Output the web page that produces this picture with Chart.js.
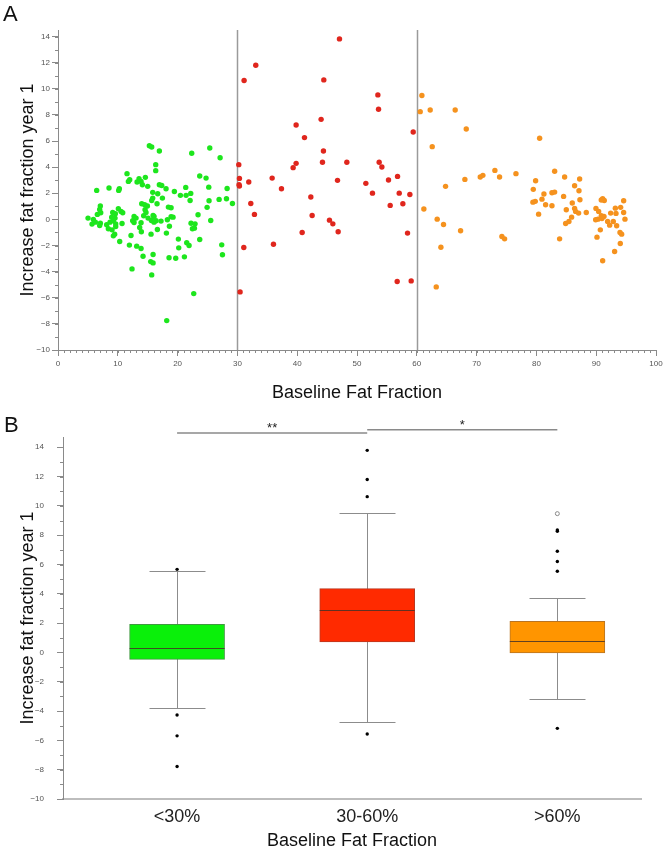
<!DOCTYPE html>
<html><head><meta charset="utf-8">
<script src="https://cdn.jsdelivr.net/npm/chart.js@4.4.1/dist/chart.umd.min.js"></script>
<style>
body{margin:0;background:#fff;width:666px;height:852px;position:relative;overflow:hidden;font-family:"Liberation Sans",Arial,sans-serif;}
#wa{position:absolute;left:0;top:0;width:666px;height:400px;}
#wb{position:absolute;left:0;top:400px;width:666px;height:452px;}
.pl{position:absolute;font-size:22px;line-height:1;color:#111;}
</style></head><body>
<div id="wa"><canvas id="ca" width="666" height="400"></canvas></div>
<div id="wb"><canvas id="cb" width="666" height="452"></canvas></div>
<div class="pl" style="left:3px;top:3px">A</div>
<div class="pl" style="left:4px;top:414px">B</div>
<script>
// ---------- Panel A data ----------
const lowX = [15.28,15.67,16.95,22.36,25.38,27.11,16.34,16.34,11.54,11.99,11.77,13.55,13.89,14.61,13.22,14.11,15.00,23.70,24.76,6.47,8.53,10.26,10.15,16.95,17.35,18.07,21.36,25.21,28.28,15.84,16.68,19.46,20.47,21.42,22.20,15.84,17.46,15.67,22.09,25.26,26.94,28.17,29.17,14.00,14.50,16.56,14.95,18.46,18.91,24.93,7.08,6.97,7.14,6.58,10.09,10.54,9.15,9.59,10.82,14.56,14.72,15.90,16.06,14.33,12.72,13.05,15.06,18.91,19.24,18.29,23.42,5.02,5.91,6.25,5.69,7.08,6.97,8.14,8.70,9.26,9.65,10.71,9.54,8.98,12.49,12.72,13.89,15.62,16.40,17.23,16.06,25.54,8.42,9.04,9.65,13.66,13.94,15.56,16.62,18.63,18.13,22.25,22.92,22.48,22.81,9.48,9.26,12.21,20.13,21.53,21.92,23.70,10.32,11.94,13.16,13.89,20.19,27.38,14.22,15.90,18.57,19.69,21.14,27.50,15.50,15.90,12.38,15.67,22.70,18.18];
const lowY = [5.64,5.54,5.24,5.06,5.47,4.72,4.19,3.73,3.50,3.04,2.91,3.11,2.91,3.22,2.86,2.65,2.53,3.32,3.16,2.22,2.40,2.35,2.22,2.65,2.60,2.35,2.45,2.47,2.37,2.07,1.96,2.14,1.84,1.84,1.99,1.63,1.63,1.45,1.45,1.43,1.53,1.58,1.22,1.20,1.12,1.20,1.02,0.94,0.89,0.92,1.02,0.76,0.51,0.38,0.81,0.61,0.53,0.43,0.51,0.74,0.53,0.30,0.22,0.28,0.22,0.10,0.10,0.20,0.17,-0.03,0.35,0.10,-0.01,-0.21,-0.36,-0.29,-0.47,-0.41,-0.21,-0.11,-0.34,-0.31,0.10,0.17,-0.11,-0.24,-0.26,-0.08,-0.11,-0.13,-0.21,-0.08,-0.72,-0.80,-0.54,-0.62,-0.95,-1.13,-0.77,-0.52,-1.05,-0.29,-0.34,-0.72,-0.67,-1.13,-1.26,-1.23,-1.51,-1.79,-2.00,-1.54,-1.69,-1.97,-2.05,-2.23,-2.18,-1.95,-2.82,-2.69,-2.94,-2.97,-2.87,-2.71,-3.23,-3.33,-3.79,-4.25,-5.68,-7.75];
const midX = [47.07,33.07,31.12,44.45,53.49,53.60,44.00,39.82,41.22,59.40,44.39,30.23,39.82,39.32,44.23,48.30,53.71,54.16,30.34,30.28,30.34,31.90,35.81,37.37,46.74,51.48,55.27,56.78,52.59,57.06,58.84,42.28,32.24,55.55,57.67,32.85,42.50,45.40,45.96,40.83,46.85,58.45,31.07,36.03,56.72,59.06,30.45];
const midY = [13.82,11.80,10.63,10.68,9.53,8.43,7.66,7.23,6.26,6.69,5.24,4.19,4.29,3.96,4.37,4.37,4.37,4.01,3.14,2.65,2.55,2.86,3.16,2.35,2.99,2.76,3.01,3.29,2.01,2.01,1.91,1.71,1.22,1.07,1.20,0.38,0.30,-0.06,-0.34,-1.00,-0.95,-1.05,-2.15,-1.90,-4.76,-4.71,-5.55];
const highX = [60.85,60.57,62.24,66.42,68.27,62.58,80.54,73.06,76.58,70.61,71.05,73.84,68.04,64.81,83.05,84.72,87.23,79.87,86.39,79.48,87.12,81.26,82.60,83.05,84.55,80.93,87.28,79.42,79.81,81.54,82.60,86.00,85.00,86.39,86.56,87.06,88.34,85.89,85.44,84.89,80.37,83.88,91.08,91.35,90.85,94.59,89.96,90.41,93.20,94.09,92.42,93.31,94.59,90.85,91.30,90.30,89.91,90.96,91.91,92.86,94.81,92.25,93.42,90.69,93.98,94.26,90.13,94.03,93.08,91.08,61.18,63.41,64.47,67.32,64.03,74.23,74.68,63.25];
const highY = [9.48,8.25,8.38,8.38,6.92,5.57,6.21,3.75,3.50,3.24,3.37,3.24,3.06,2.53,3.68,3.24,3.09,2.96,2.58,2.30,2.19,1.94,2.04,2.09,1.76,1.55,1.50,1.32,1.38,1.12,1.04,1.25,0.74,0.84,0.61,0.48,0.53,0.17,-0.16,-0.31,0.40,-1.49,1.58,1.45,1.48,1.43,0.84,0.61,0.86,0.92,0.48,0.46,0.53,0.28,0.22,0.02,-0.03,0.07,-0.16,-0.16,0.02,-0.44,-0.49,-0.80,-1.00,-1.13,-1.36,-1.85,-2.46,-3.17,0.79,0.02,-0.39,-0.87,-2.13,-1.31,-1.49,-5.17];
const cutoffs = [30, 60];
const xTicksA = [0,10,20,30,40,50,60,70,80,90,100];
const yTicks = [-10,-8,-6,-4,-2,0,2,4,6,8,10,12,14];

// ---------- Panel B data ----------
const boxCategories = ['<30%','30-60%','>60%'];
const q1 = [-0.47, 0.71, -0.04];
const median = [0.28, 2.87, 0.78];
const q3 = [1.92, 4.35, 2.12];
const whiskLow = [-3.77, -4.77, -3.20];
const whiskHigh = [5.53, 9.49, 3.73];
const outlierGroup = [1,1,1,1,2,2,2,2,3,3,3,3,3,3];
const outlierValue = [5.67,-4.27,-5.69,-7.78,13.79,11.80,10.63,-5.56,8.36,8.27,6.90,6.20,5.54,-5.18];
const farGroup = [3];
const farValue = [9.47];
const sigLabels = ['**','*'];

Chart.defaults.font.family = "'Liberation Sans', Arial, sans-serif";

const fmt = v => v < 0 ? '\u2212' + Math.abs(v) : String(v);
const pts = (xs, ys) => xs.map((x, i) => ({x, y: ys[i]}));

const minorTicks = {
  id: 'minorTicks',
  afterDraw(chart, args, opts) {
    const ctx = chart.ctx;
    ctx.save();
    ctx.strokeStyle = opts.color; ctx.lineWidth = 1;
    (opts.axes || []).forEach(a => {
      const s = chart.scales[a.id];
      for (let v = a.min; v <= a.max + 1e-9; v += a.step) {
        const p = Math.round(s.getPixelForValue(v)) + 0.5;
        ctx.beginPath();
        if (s.isHorizontal()) { ctx.moveTo(p, s.top); ctx.lineTo(p, s.top + a.len); }
        else { ctx.moveTo(s.right - a.len, p); ctx.lineTo(s.right, p); }
        ctx.stroke();
      }
    });
    ctx.restore();
  }
};

const cutLines = {
  id: 'cutLines',
  beforeDatasetsDraw(chart, args, opts) {
    const {ctx, chartArea, scales: {x}} = chart;
    ctx.save();
    ctx.strokeStyle = opts.color; ctx.lineWidth = opts.width;
    cutoffs.forEach(v => {
      const p = Math.round(x.getPixelForValue(v)) + 0.5;
      ctx.beginPath(); ctx.moveTo(p, chartArea.top); ctx.lineTo(p, chartArea.bottom); ctx.stroke();
    });
    ctx.restore();
  }
};

const axisY = (width, pad) => ({
  min: -10, max: 14.5,
  afterBuildTicks: s => { s.ticks = yTicks.map(v => ({value: v})); },
  afterFit: s => { s.width = width; },
  border: {color: '#8a8a8a', width: 1},
  grid: {drawOnChartArea: false, tickLength: 6, color: '#8a8a8a'},
  ticks: {font: {size: 8}, color: '#555', padding: pad, callback: fmt},
  title: {display: true, text: 'Increase fat fraction year 1', font: {size: 18}, color: '#111', padding: {top: 17, bottom: 0}}
});

new Chart(document.getElementById('ca'), {
  type: 'scatter',
  data: {datasets: [
    {data: pts(lowX, lowY), backgroundColor: '#1de61d', borderWidth: 0, pointRadius: 2.7},
    {data: pts(midX, midY), backgroundColor: '#e0261d', borderWidth: 0, pointRadius: 2.7},
    {data: pts(highX, highY), backgroundColor: '#f5921e', borderWidth: 0, pointRadius: 2.7}
  ]},
  options: {
    responsive: false, animation: false, devicePixelRatio: 1,
    layout: {padding: {left: 0, right: 10, top: 30, bottom: 0}},
    plugins: {
      legend: {display: false}, tooltip: {enabled: false},
      minorTicks: {color: '#8a8a8a', axes: [{id: 'x', min: 0, max: 100, step: 1, len: 3}, {id: 'y', min: -10, max: 14, step: 1, len: 3}]},
      cutLines: {color: '#9a9a9a', width: 1.5}
    },
    scales: {
      x: {
        type: 'linear', min: 0, max: 100,
        afterBuildTicks: s => { s.ticks = xTicksA.map(v => ({value: v})); },
        afterFit: s => { s.height = 50; },
        border: {color: '#8a8a8a', width: 1},
        grid: {drawOnChartArea: false, tickLength: 6, color: '#8a8a8a'},
        ticks: {font: {size: 8}, color: '#555', padding: 3, maxRotation: 0, autoSkip: false, callback: fmt},
        title: {display: true, text: 'Baseline Fat Fraction', font: {size: 18, lineHeight: 1}, color: '#111', padding: {top: 0, bottom: -2}}
      },
      y: axisY(58, 2)
    }
  },
  plugins: [minorTicks, cutLines]
});

const boxLines = {
  id: 'boxLines',
  beforeDatasetsDraw(chart) {
    const {ctx, scales: {x, y}} = chart;
    ctx.save();
    ctx.strokeStyle = '#8c8c8c'; ctx.lineWidth = 1;
    boxCategories.forEach((c, i) => {
      const cx = Math.round(x.getPixelForValue(i + 1)) + 0.5;
      const lo = Math.round(y.getPixelForValue(whiskLow[i])) + 0.5;
      const hi = Math.round(y.getPixelForValue(whiskHigh[i])) + 0.5;
      ctx.beginPath();
      ctx.moveTo(cx, hi); ctx.lineTo(cx, lo);
      ctx.moveTo(cx - 28, hi); ctx.lineTo(cx + 28, hi);
      ctx.moveTo(cx - 28, lo); ctx.lineTo(cx + 28, lo);
      ctx.stroke();
    });
    ctx.restore();
  },
  afterDatasetsDraw(chart) {
    const {ctx, scales: {x, y}} = chart;
    ctx.save();
    ctx.strokeStyle = 'rgba(70,50,40,0.85)'; ctx.lineWidth = 1;
    boxCategories.forEach((c, i) => {
      const cx = x.getPixelForValue(i + 1);
      const m = Math.round(y.getPixelForValue(median[i])) + 0.5;
      ctx.beginPath(); ctx.moveTo(cx - 47.5, m); ctx.lineTo(cx + 47.5, m); ctx.stroke();
    });
    ctx.restore();
  },
  afterDraw(chart) {
    const {ctx, scales: {x, y}} = chart;
    const levels = [14.98, 15.2];
    ctx.save();
    ctx.strokeStyle = '#8a8a8a'; ctx.lineWidth = 1.5;
    ctx.fillStyle = '#222'; ctx.font = "13px 'Liberation Sans', Arial, sans-serif";
    ctx.textAlign = 'center'; ctx.textBaseline = 'alphabetic';
    sigLabels.forEach((lab, i) => {
      const x0 = x.getPixelForValue(i + 1), x1 = x.getPixelForValue(i + 2);
      const py = y.getPixelForValue(levels[i]);
      ctx.beginPath(); ctx.moveTo(x0, py); ctx.lineTo(x1, py); ctx.stroke();
      ctx.fillText(lab, (x0 + x1) / 2, py - 1);
    });
    ctx.restore();
  }
};

const yB = axisY(63, 13);
yB.max = 14.7;

new Chart(document.getElementById('cb'), {
  type: 'bar',
  data: {datasets: [
    {type: 'bar', data: boxCategories.map((c, i) => ({x: i + 1, y: [q1[i], q3[i]]})),
     backgroundColor: ['#0af00a', '#ff2a00', '#ff9500'],
     borderColor: ['#3f9a3f', '#b83a22', '#b87422'],
     borderWidth: 1, borderSkipped: false, barThickness: 95},
    {type: 'scatter', data: outlierGroup.map((g, i) => ({x: g, y: outlierValue[i]})),
     backgroundColor: '#000', borderWidth: 0, pointRadius: 1.7},
    {type: 'scatter', data: farGroup.map((g, i) => ({x: g, y: farValue[i]})),
     backgroundColor: '#fff', borderColor: '#888', borderWidth: 1, pointRadius: 2}
  ]},
  options: {
    responsive: false, animation: false, devicePixelRatio: 1,
    layout: {padding: {left: 0, right: 25, top: 37, bottom: 0}},
    plugins: {
      legend: {display: false}, tooltip: {enabled: false},
      minorTicks: {color: '#8a8a8a', axes: [{id: 'y', min: -10, max: 14, step: 1, len: 3}]}
    },
    scales: {
      x: {
        type: 'linear', min: 0.4, max: 3.44, offset: false,
        afterBuildTicks: s => { s.ticks = boxCategories.map((c, i) => ({value: i + 1})); },
        afterFit: s => { s.height = 53; },
        border: {color: '#bdbdbd', width: 2},
        grid: {display: false, drawTicks: false, tickLength: 0},
        ticks: {font: {size: 18}, color: '#222', padding: 7, maxRotation: 0, autoSkip: false,
                callback: v => boxCategories[Math.round(v) - 1]},
        title: {display: true, text: 'Baseline Fat Fraction', font: {size: 18}, color: '#111', padding: {top: 0, bottom: 0}}
      },
      y: yB
    }
  },
  plugins: [minorTicks, boxLines]
});
</script>
</body></html>
